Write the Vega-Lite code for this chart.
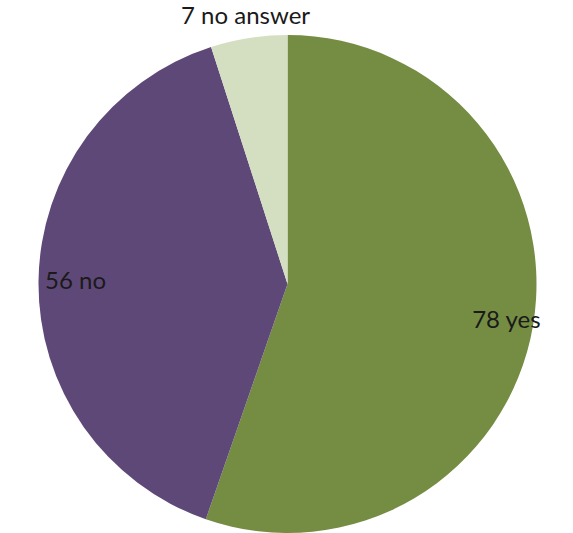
{
  "$schema": "https://vega.github.io/schema/vega-lite/v6.json",
  "width": 565,
  "height": 498,
  "autosize": {"type": "none"},
  "padding": {"left": 5, "top": 35, "right": 3, "bottom": 0},
  "background": "white",
  "view": {"stroke": null},
  "data": {"values": [
    {"answer": "yes", "count": 78, "ord": 1, "label": "78 yes"},
    {"answer": "no", "count": 56, "ord": 2, "label": "56 no"},
    {"answer": "no answer", "count": 7, "ord": 3, "label": "7 no answer"}
  ]},
  "encoding": {
    "theta": {"field": "count", "type": "quantitative", "stack": true},
    "order": {"field": "ord", "type": "quantitative"}
  },
  "layer": [
    {
      "mark": {"type": "arc", "outerRadius": 249},
      "encoding": {
        "color": {"field": "answer", "type": "nominal", "legend": null,
          "scale": {"domain": ["yes", "no", "no answer"], "range": ["#758D43", "#5E4878", "#D3DFC0"]}}
      }
    },
    {
      "mark": {"type": "text", "radius": 222, "font": "Lato", "fontSize": 24, "color": "#1a1a1a"},
      "encoding": {"text": {"condition": {"test": "datum.answer === 'yes'", "field": "label"}, "value": ""}}
    },
    {
      "mark": {"type": "text", "radius": 212, "font": "Lato", "fontSize": 24, "color": "#1a1a1a"},
      "encoding": {"text": {"condition": {"test": "datum.answer === 'no'", "field": "label"}, "value": ""}}
    },
    {
      "mark": {"type": "text", "radius": 270, "font": "Lato", "fontSize": 24, "color": "#1a1a1a"},
      "encoding": {"text": {"condition": {"test": "datum.answer === 'no answer'", "field": "label"}, "value": ""}}
    }
  ]
}
